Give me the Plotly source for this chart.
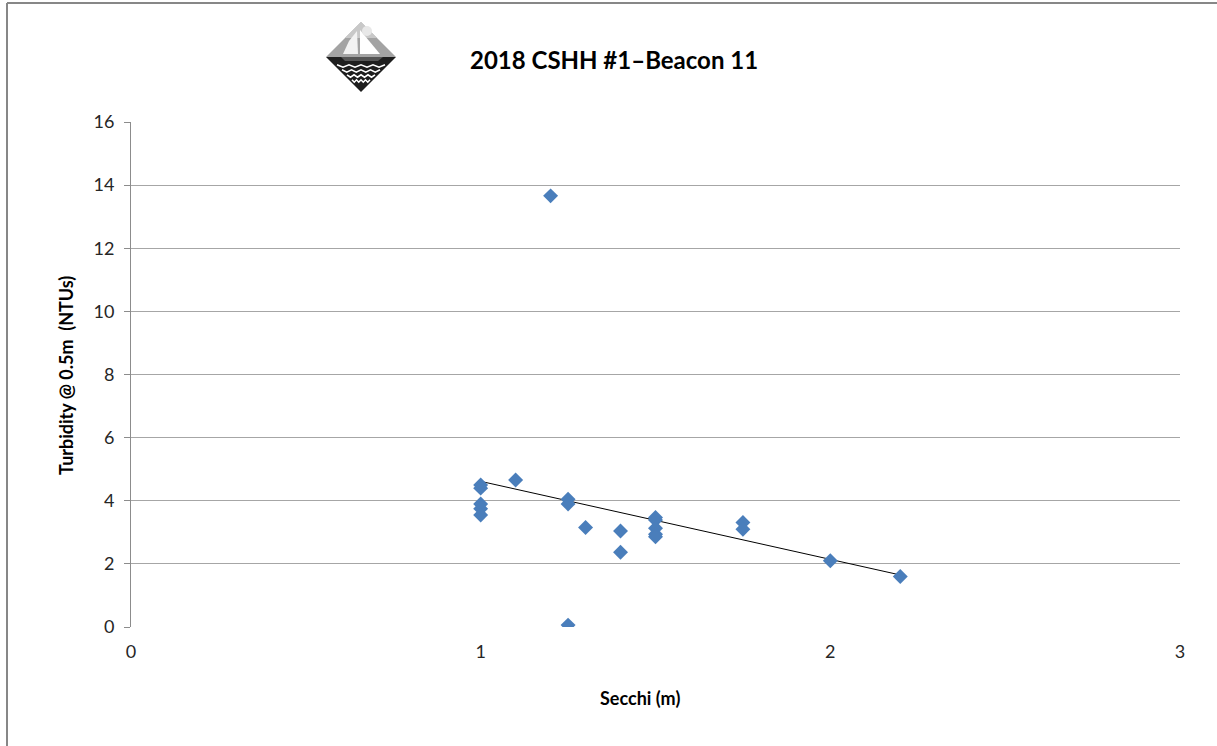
import numpy as np
import plotly.graph_objects as go

# Data
secchi_m = [1.0, 1.0, 1.0, 1.0, 1.0, 1.1, 1.2, 1.25, 1.25, 1.25, 1.3, 1.4, 1.4,
            1.5, 1.5, 1.5, 1.5, 1.5, 1.75, 1.75, 2.0, 2.2]
turbidity_ntu = [4.5, 4.4, 3.9, 3.75, 3.55, 4.66, 13.66, 4.05, 3.9, 0.06, 3.15, 3.04, 2.37,
                 3.47, 3.39, 3.13, 2.94, 2.86, 3.31, 3.1, 2.1, 1.6]

x_ticks = [0, 1, 2, 3]
y_ticks = [0, 2, 4, 6, 8, 10, 12, 14, 16]

title_text = "2018 CSHH #1\u2013Beacon 11"
x_title = "Secchi (m)"
y_title = "Turbidity @ 0.5m&nbsp; (NTUs)"

# Linear trendline (least squares over the data)
slope, intercept = np.polyfit(secchi_m, turbidity_ntu, 1)
trend_x = [min(secchi_m), max(secchi_m)]
trend_y = [slope * v + intercept for v in trend_x]

W, H = 1217, 746
ML, MR, MT, MB = 131, 37, 122, 119
PW, PH = W - ML - MR, H - MT - MB

def px(x):
    return (x - ML) / PW

def py(y):
    return (H - MB - y) / PH

fig = go.Figure()
fig.add_trace(go.Scatter(
    x=trend_x, y=trend_y, mode="lines",
    line=dict(color="#000000", width=1), hoverinfo="skip", showlegend=False))
fig.add_trace(go.Scatter(
    x=secchi_m, y=turbidity_ntu, mode="markers",
    marker=dict(symbol="diamond", size=11.5, color="#4a7ebb",
                line=dict(width=0)),
    showlegend=False))

font_family = "Lato, 'Open Sans', Arial, sans-serif"

shapes = []
# outer chart border (left and top visible)
shapes.append(dict(type="line", xref="paper", yref="paper",
                   x0=px(7), y0=py(3), x1=px(7), y1=py(746),
                   line=dict(color="#878787", width=2)))
shapes.append(dict(type="line", xref="paper", yref="paper",
                   x0=px(7), y0=py(3), x1=px(1217), y1=py(3),
                   line=dict(color="#878787", width=2)))

# logo: diamond with sailboat
def path(points):
    return "M " + " L ".join(f"{px(a)},{py(b)}" for a, b in points) + " Z"

cx, cy, r = 361, 57, 35
shapes.append(dict(type="path", xref="paper", yref="paper",
                   path=path([(cx - r, cy), (cx, cy - r), (cx + r, cy)]),
                   fillcolor="#a3a3a3", line=dict(width=0)))
shapes.append(dict(type="path", xref="paper", yref="paper",
                   path=path([(cx - 16, cy - 19), (cx, cy - r), (cx + 16, cy - 19)]),
                   fillcolor="#c8c8c8", line=dict(width=0)))
shapes.append(dict(type="path", xref="paper", yref="paper",
                   path=path([(cx - r, cy), (cx + r, cy), (cx, cy + r)]),
                   fillcolor="#1e1e1e", line=dict(width=0)))
# sails
shapes.append(dict(type="path", xref="paper", yref="paper",
                   path=path([(cx - 1, cy - 27), (cx + 19, cy - 3), (cx - 1, cy - 3)]),
                   fillcolor="#ffffff", line=dict(width=0)))
shapes.append(dict(type="path", xref="paper", yref="paper",
                   path=path([(cx - 4, cy - 26), (cx - 3, cy - 3), (cx - 18, cy - 3),
                              (cx - 12, cy - 16)]),
                   fillcolor="#f2f2f2", line=dict(width=0)))
shapes.append(dict(type="path", xref="paper", yref="paper",
                   path=path([(cx - 20, cy), (cx + 22, cy), (cx + 17, cy + 4), (cx - 16, cy + 4)]),
                   fillcolor="#555555", line=dict(width=0)))
shapes.append(dict(type="circle", xref="paper", yref="paper",
                   x0=px(cx + 1), x1=px(cx + 11), y0=py(cy - 31), y1=py(cy - 21),
                   fillcolor="#e8e8e8", line=dict(width=0)))
for yy in [cy + 9, cy + 14, cy + 19, cy + 24]:
    half = r - (yy - cy) - 2
    pts = []
    n = 8
    for i in range(n + 1):
        xx = cx - half + 2 * half * i / n
        pts.append((xx, yy + (1.2 if i % 2 else -1.2)))
    d = "M " + " L ".join(f"{px(a)},{py(b)}" for a, b in pts)
    shapes.append(dict(type="path", xref="paper", yref="paper", path=d,
                       line=dict(color="#ffffff", width=1.6)))

fig.update_layout(
    width=W, height=H,
    margin=dict(l=ML, r=MR, t=MT, b=MB, pad=0),
    paper_bgcolor="#ffffff", plot_bgcolor="#ffffff",
    font=dict(family=font_family, color="#262626"),
    shapes=shapes,
    annotations=[
        dict(text=f"<b>{title_text}</b>", xref="paper", yref="paper",
             x=px(614), y=py(60), xanchor="center", yanchor="middle",
             showarrow=False, font=dict(size=24, color="#000000")),
        dict(text=f"<b>{x_title}</b>", xref="paper", yref="paper",
             x=px(640), y=py(698), xanchor="center", yanchor="middle",
             showarrow=False, font=dict(size=18, color="#000000")),
        dict(text=f"<b>{y_title}</b>", xref="paper", yref="paper",
             x=px(66), y=py(376), xanchor="center", yanchor="middle",
             textangle=-90, showarrow=False, font=dict(size=18, color="#000000")),
    ],
    xaxis=dict(range=[0, 3], tickvals=x_ticks, ticktext=[str(v) for v in x_ticks],
               showgrid=False, zeroline=False, showline=False,
               ticks="", ticklabelstandoff=12,
               tickfont=dict(size=18, color="#262626")),
    yaxis=dict(range=[0, 16], tickvals=y_ticks, ticktext=[str(v) for v in y_ticks],
               showgrid=True, gridcolor="#a6a6a6", gridwidth=1,
               zeroline=False, showline=True, linecolor="#8c8c8c", linewidth=1,
               ticks="outside", ticklen=6, tickcolor="#8c8c8c",
               ticklabelstandoff=6,
               tickfont=dict(size=18, color="#262626")),
)

fig.write_html("out.html", config={"displayModeBar": False},
               post_script="document.body.style.margin='0';")
